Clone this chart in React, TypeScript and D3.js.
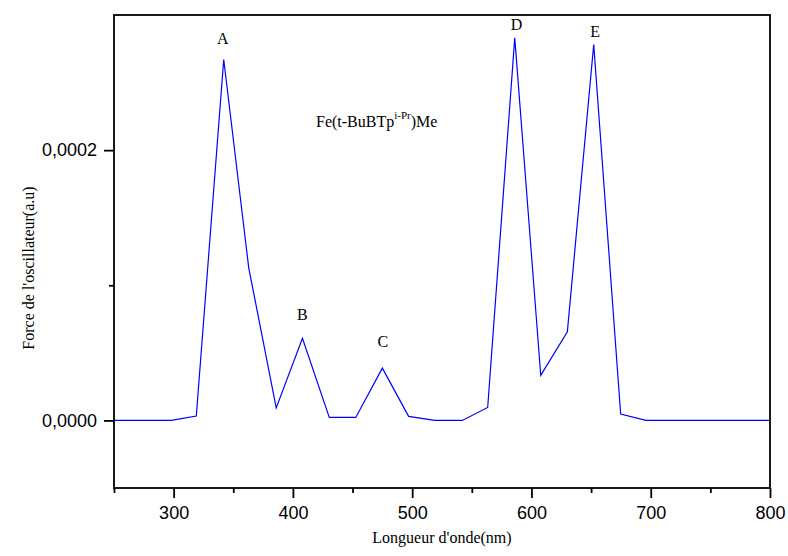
import React, {useRef, useEffect} from 'react'
import * as d3 from 'd3'

// wavelength (nm) / oscillator strength
const wavelength = [250, 276, 298, 319, 342, 363, 386, 408, 430.5, 452.7, 475, 497, 519, 542, 563.3, 586, 607.8, 630.1, 652.2, 674.8, 696, 719, 741, 764, 786, 800]
const strength = [0, 0, 0, 0.0000032, 0.0002671, 0.0001127, 0.0000093, 0.0000607, 0.0000022, 0.0000022, 0.0000387, 0.000003, 0, 0, 0.0000096, 0.0002831, 0.0000333, 0.0000656, 0.0002782, 0.0000047, 0, 0, 0, 0, 0, 0]

// peak annotations
const peakNames = ['A', 'B', 'C', 'D', 'E']
const peakLabelX = [341.3, 408, 475.3, 587.5, 653.5]
const peakLabelY = [0.0002784, 0.0000742, 0.0000545, 0.0002888, 0.0002838]

const xMajor = [300, 400, 500, 600, 700, 800]
const xMinor = [250, 350, 450, 550, 650, 750]
const yMajor = [0, 0.0002]
const yMinor = [0.0001]

const W = 788
const H = 556
const margin = {top: 15, right: 18, bottom: 68, left: 114}

const locale = d3.formatLocale({decimal: ',', thousands: '.', grouping: [3], currency: ['', '']})
const fmtY = locale.format('.4f')

export default function App() {
  const xRef = useRef<SVGGElement>(null)
  const xMinRef = useRef<SVGGElement>(null)
  const yRef = useRef<SVGGElement>(null)
  const yMinRef = useRef<SVGGElement>(null)

  const x = d3.scaleLinear().domain([250, 800]).range([margin.left, W - margin.right])
  const y = d3.scaleLinear().domain([-0.00005, 0.0003]).range([H - margin.bottom, margin.top])

  const data = wavelength.map((w, i) => ({w, s: strength[i]}))
  const line = d3
    .line<{w: number; s: number}>()
    .x(d => x(d.w))
    .y(d => y(d.s))

  useEffect(() => {
    const style = (g: any) => {
      g.select('.domain').remove()
      g.selectAll('line').attr('stroke', '#000').attr('stroke-width', 1.8)
      g.selectAll('text')
        .attr('fill', '#000')
        .style('font-family', '"Liberation Sans", Arial, sans-serif')
        .style('font-size', '18px')
    }
    d3.select(xRef.current)
      .attr('transform', `translate(0,${H - margin.bottom})`)
      .call(d3.axisBottom(x).tickValues(xMajor).tickSize(10).tickSizeOuter(0).tickPadding(8).tickFormat(d3.format('d')) as any)
      .call(style)
    d3.select(xMinRef.current)
      .attr('transform', `translate(0,${H - margin.bottom})`)
      .call(d3.axisBottom(x).tickValues(xMinor).tickSize(5).tickSizeOuter(0).tickFormat(() => '') as any)
      .call(style)
    d3.select(yRef.current)
      .attr('transform', `translate(${margin.left},0)`)
      .call(d3.axisLeft(y).tickValues(yMajor).tickSize(10).tickSizeOuter(0).tickPadding(7).tickFormat(d => fmtY(+d)) as any)
      .call(style)
    d3.select(yMinRef.current)
      .attr('transform', `translate(${margin.left},0)`)
      .call(d3.axisLeft(y).tickValues(yMinor).tickSize(5).tickSizeOuter(0).tickFormat(() => '') as any)
      .call(style)
  }, [])

  const serif = '"Liberation Serif", "Times New Roman", serif'

  return (
    <svg width={W} height={H} style={{position: 'absolute', left: 0, top: 0, background: '#fff'}}>
      <defs>
        <clipPath id="plot">
          <rect x={margin.left} y={margin.top} width={W - margin.left - margin.right} height={H - margin.top - margin.bottom} />
        </clipPath>
      </defs>
      <path d={line(data) || ''} fill="none" stroke="#0000ff" strokeWidth={1.2} clipPath="url(#plot)" />
      <rect
        x={margin.left}
        y={margin.top}
        width={W - margin.left - margin.right}
        height={H - margin.top - margin.bottom}
        fill="none"
        stroke="#000"
        strokeWidth={1.8}
      />
      <g ref={xRef} />
      <g ref={xMinRef} />
      <g ref={yRef} />
      <g ref={yMinRef} />
      {peakNames.map((n, i) => (
        <text key={n} x={x(peakLabelX[i])} y={y(peakLabelY[i])} textAnchor="middle" fontFamily={serif} fontSize={16}>
          {n}
        </text>
      ))}
      <text x={316} y={127} fontFamily={serif} fontSize={16}>
        Fe(t-BuBTp
        <tspan fontSize={11} dy={-8}>i-Pr</tspan>
        <tspan dy={8}>)Me</tspan>
      </text>
      <text x={(margin.left + W - margin.right) / 2} y={543} textAnchor="middle" fontFamily={serif} fontSize={16}>
        Longueur d'onde(nm)
      </text>
      <text transform={`translate(34,268) rotate(-90)`} textAnchor="middle" fontFamily={serif} fontSize={16}>
        Force de l'oscillateur(a.u)
      </text>
    </svg>
  )
}
